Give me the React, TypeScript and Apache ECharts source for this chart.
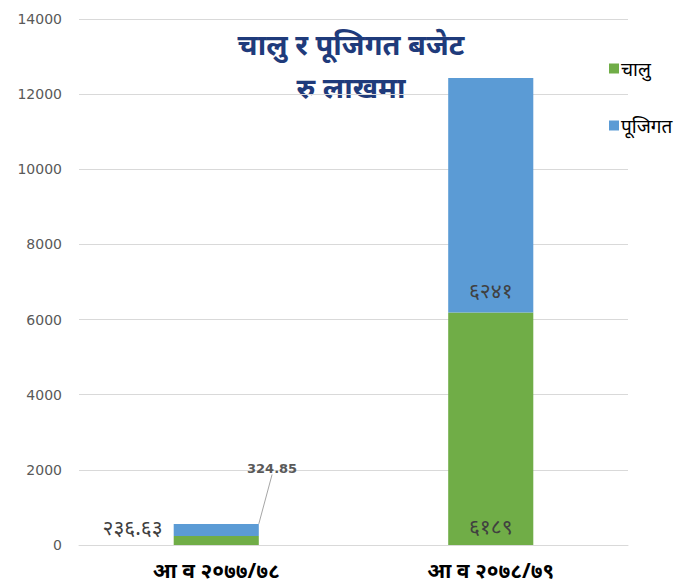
import React, { useEffect, useRef } from "react";
import * as echarts from "echarts";

const categories = ["आ व २०७७/७८", "आ व २०७८/७९"];
const chaluValues = [236.63, 6189];
const pujigatValues = [324.85, 6241];
const seriesNames = ["चालु", "पूजिगत"];
const titleLines = ["चालु र पूजिगत बजेट", "रु लाखमा"];
const yTicks = { min: 0, max: 14000, interval: 2000 };

const devDigits = "०१२३४५६७८९";
const toDev = (n: number) => String(n).replace(/[0-9]/g, (d) => devDigits[Number(d)]);

export default function App() {
  const ref = useRef<HTMLDivElement>(null);
  useEffect(() => {
    if (!ref.current) return;
    const chart = echarts.init(ref.current, null, { renderer: "svg" });
    const devFont = "'Noto Sans', 'DejaVu Sans', sans-serif";
    chart.setOption({
      animation: false,
      backgroundColor: "#ffffff",
      grid: { left: 79, right: 48, top: 19, bottom: 38 },
      legend: {
        orient: "vertical",
        left: 604,
        top: 54,
        itemGap: 38,
        itemWidth: 10,
        itemHeight: 10,
        icon: "rect",
        data: seriesNames,
        textStyle: { color: "#000000", fontSize: 19, fontFamily: devFont, padding: [0, 0, 0, -3] },
      },
      graphic: [
        {
          type: "text",
          x: 351,
          y: 43,
          style: {
            text: titleLines[0],
            textAlign: "center",
            textVerticalAlign: "middle",
            fill: "#1f3b7b",
            font: `bold 29px ${devFont}`,
          },
        },
        {
          type: "text",
          x: 351,
          y: 86,
          style: {
            text: titleLines[1],
            textAlign: "center",
            textVerticalAlign: "middle",
            fill: "#1f3b7b",
            font: `bold 29px ${devFont}`,
          },
        },
      ],
      xAxis: {
        type: "category",
        data: categories,
        axisLine: { show: true, lineStyle: { color: "#d9d9d9" } },
        axisTick: { show: false },
        axisLabel: { color: "#000000", fontSize: 21, fontWeight: "bold", margin: 14, fontFamily: devFont },
      },
      yAxis: {
        type: "value",
        min: yTicks.min,
        max: yTicks.max,
        interval: yTicks.interval,
        axisLine: { show: false },
        axisTick: { show: false },
        splitLine: { lineStyle: { color: "#d9d9d9" } },
        axisLabel: {
          color: "#595959",
          fontSize: 14,
          margin: 17,
          fontFamily: "'DejaVu Sans', sans-serif",
          formatter: (v: number) => String(v),
        },
      },
      series: [
        {
          name: seriesNames[0],
          type: "bar",
          stack: "total",
          barWidth: "31%",
          itemStyle: { color: "#70ad47" },
          data: chaluValues.map((v, i) => ({
            value: v,
            label:
              i === 0
                ? { show: true, position: "left", offset: [-6, -14], formatter: toDev(v) }
                : { show: true, position: "insideBottom", distance: 9, formatter: toDev(v) },
          })),
          label: { color: "#404040", fontSize: 21, fontFamily: devFont },
        },
        {
          name: seriesNames[1],
          type: "bar",
          stack: "total",
          barWidth: "31%",
          itemStyle: { color: "#5b9bd5" },
          data: pujigatValues.map((v, i) => ({
            value: v,
            label:
              i === 0
                ? {
                    show: true,
                    position: "top",
                    formatter: String(v),
                    color: "#595959",
                    fontSize: 13,
                    fontWeight: "bold",
                    fontFamily: "'DejaVu Sans', sans-serif",
                  }
                : { show: true, position: "insideBottom", distance: 12, formatter: toDev(v) },
            labelLine: i === 0 ? { show: true, lineStyle: { color: "#a6a6a6", width: 1 } } : { show: false },
          })),
          label: { color: "#404040", fontSize: 21, fontFamily: devFont },
          labelLayout: (params: any) =>
            params.dataIndex === 0 ? { x: 247, y: 468, align: "left", verticalAlign: "middle" } : {},
        },
      ],
    });
    return () => chart.dispose();
  }, []);
  return <div ref={ref} style={{ position: "fixed", left: 0, top: 0, width: 676, height: 583 }} />;
}
